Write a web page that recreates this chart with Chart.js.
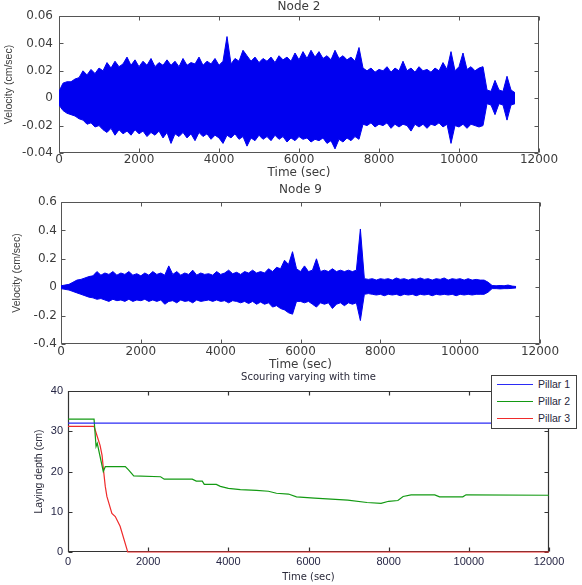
<!DOCTYPE html>
<html>
<head>
<meta charset="utf-8">
<script src="https://cdn.jsdelivr.net/npm/chart.js@4"></script>
<style>
  body { margin: 0; background: #fff; }
  #wrap { position: relative; width: 582px; height: 585px; overflow: hidden; }
  canvas { position: absolute; left: 0; }
  #legend { position: absolute; left: 491px; top: 375px; width: 84px; height: 52px; border: 1px solid #404040; background: #fff;
            font: 10.5px "Liberation Sans", Arial, sans-serif; color: #26263a; }
  .row { position: absolute; left: 0; height: 14px; line-height: 14px; width: 84px; }
  .swatch { position: absolute; left: 5px; top: 7px; width: 36px; height: 0; border-top: 1px solid; }
  .lbl { position: absolute; left: 46px; white-space: nowrap; }
</style>
</head>
<body>
<div id="wrap">
  <canvas id="node2" width="582" height="182" style="top:0"></canvas>
  <canvas id="node9" width="582" height="194" style="top:180px"></canvas>
  <canvas id="scour" width="582" height="223" style="top:362px"></canvas>
  <div id="legend"></div>
</div>
<script>
// sample times (sec) for the velocity envelopes, one every 100 s
const sampleTimes = [
  0, 100, 200, 300, 400, 500, 600, 700, 800, 900,
  1000, 1100, 1200, 1300, 1400, 1500, 1600, 1700, 1800, 1900,
  2000, 2100, 2200, 2300, 2400, 2500, 2600, 2700, 2800, 2900,
  3000, 3100, 3200, 3300, 3400, 3500, 3600, 3700, 3800, 3900,
  4000, 4100, 4200, 4300, 4400, 4500, 4600, 4700, 4800, 4900,
  5000, 5100, 5200, 5300, 5400, 5500, 5600, 5700, 5800, 5900,
  6000, 6100, 6200, 6300, 6400, 6500, 6600, 6700, 6800, 6900,
  7000, 7100, 7200, 7300, 7400, 7500, 7600, 7700, 7800, 7900,
  8000, 8100, 8200, 8300, 8400, 8500, 8600, 8700, 8800, 8900,
  9000, 9100, 9200, 9300, 9400, 9500, 9600, 9700, 9800, 9900,
  10000, 10100, 10200, 10300, 10400, 10500, 10600, 10700, 10800, 10900,
  11000, 11100, 11200, 11300, 11400
];

// Node 2 velocity envelope (cm/sec)
const node2Upper = [
  0.005, 0.011, 0.012, 0.012, 0.014, 0.015, 0.020, 0.017, 0.021, 0.018,
  0.022, 0.020, 0.026, 0.022, 0.027, 0.023, 0.025, 0.030, 0.024, 0.028,
  0.023, 0.027, 0.024, 0.029, 0.023, 0.026, 0.024, 0.028, 0.024, 0.027,
  0.023, 0.029, 0.024, 0.026, 0.025, 0.030, 0.024, 0.027, 0.025, 0.029,
  0.024, 0.027, 0.045, 0.025, 0.029, 0.027, 0.035, 0.031, 0.027, 0.030,
  0.026, 0.029, 0.027, 0.030, 0.026, 0.031, 0.028, 0.030, 0.027, 0.033,
  0.028, 0.034, 0.029, 0.035, 0.030, 0.034, 0.029, 0.031, 0.028, 0.035,
  0.029, 0.031, 0.028, 0.030, 0.027, 0.037, 0.022, 0.020, 0.022, 0.019,
  0.021, 0.020, 0.023, 0.019, 0.022, 0.020, 0.027, 0.020, 0.022, 0.019,
  0.023, 0.020, 0.021, 0.019, 0.022, 0.020, 0.026, 0.021, 0.034, 0.020,
  0.023, 0.033, 0.021, 0.023, 0.020, 0.022, 0.023, 0.006, 0.005, 0.013,
  0.006, 0.005, 0.016, 0.006, 0.004
];
const node2Lower = [
  -0.005, -0.009, -0.011, -0.012, -0.013, -0.015, -0.016, -0.019, -0.018, -0.021,
  -0.020, -0.023, -0.025, -0.022, -0.027, -0.023, -0.026, -0.024, -0.027, -0.023,
  -0.026, -0.024, -0.028, -0.025, -0.027, -0.024, -0.029, -0.025, -0.033, -0.026,
  -0.028, -0.025, -0.029, -0.026, -0.031, -0.025, -0.028, -0.026, -0.030, -0.027,
  -0.029, -0.033, -0.027, -0.029, -0.026, -0.030, -0.028, -0.035, -0.029, -0.031,
  -0.027, -0.030, -0.028, -0.031, -0.027, -0.030, -0.028, -0.032, -0.029, -0.031,
  -0.028, -0.030, -0.029, -0.032, -0.030, -0.031, -0.029, -0.033, -0.031, -0.037,
  -0.030, -0.032, -0.029, -0.031, -0.028, -0.030, -0.019, -0.020, -0.018, -0.021,
  -0.019, -0.020, -0.018, -0.022, -0.019, -0.021, -0.019, -0.020, -0.024, -0.019,
  -0.021, -0.019, -0.022, -0.019, -0.020, -0.018, -0.021, -0.019, -0.033, -0.020,
  -0.021, -0.019, -0.022, -0.019, -0.020, -0.021, -0.020, -0.004, -0.005, -0.012,
  -0.004, -0.005, -0.016, -0.005, -0.004
];

// Node 9 velocity envelope (cm/sec)
const node9Upper = [
  0.01, 0.015, 0.02, 0.035, 0.05, 0.055, 0.065, 0.075, 0.08, 0.11,
  0.085, 0.1, 0.09, 0.11, 0.085, 0.1, 0.09, 0.11, 0.085, 0.095,
  0.08, 0.1, 0.085, 0.11, 0.09, 0.1, 0.085, 0.15, 0.09, 0.11,
  0.085, 0.1, 0.09, 0.12, 0.085, 0.1, 0.09, 0.095, 0.085, 0.11,
  0.09, 0.1, 0.12, 0.095, 0.105, 0.09, 0.11, 0.1, 0.12, 0.1,
  0.11, 0.1, 0.13, 0.11, 0.14, 0.13, 0.19, 0.16, 0.25, 0.13,
  0.11, 0.15, 0.11, 0.12, 0.2, 0.11, 0.12, 0.11, 0.13, 0.11,
  0.12, 0.11, 0.12, 0.11, 0.12, 0.41, 0.06, 0.055, 0.06, 0.05,
  0.06, 0.055, 0.06, 0.05, 0.065, 0.055, 0.06, 0.05, 0.06, 0.055,
  0.065, 0.055, 0.06, 0.05, 0.06, 0.055, 0.065, 0.05, 0.06, 0.055,
  0.06, 0.05, 0.06, 0.05, 0.055, 0.05, 0.05, 0.035, 0.012, 0.01,
  0.012, 0.01, 0.015, 0.008, 0.005
];
const node9Lower = [
  -0.01, -0.015, -0.02, -0.03, -0.04, -0.05, -0.06, -0.07, -0.075, -0.085,
  -0.08, -0.09, -0.1, -0.085, -0.095, -0.09, -0.1, -0.085, -0.1, -0.09,
  -0.095, -0.085, -0.1, -0.09, -0.1, -0.09, -0.12, -0.1, -0.095, -0.11,
  -0.09, -0.1, -0.095, -0.11, -0.09, -0.1, -0.095, -0.09, -0.1, -0.09,
  -0.1, -0.095, -0.11, -0.095, -0.1, -0.11, -0.1, -0.115, -0.1, -0.12,
  -0.105, -0.12, -0.11, -0.14, -0.13, -0.15, -0.16, -0.18, -0.19, -0.1,
  -0.1, -0.11, -0.1, -0.12, -0.14, -0.11, -0.12, -0.11, -0.15, -0.12,
  -0.11, -0.13, -0.11, -0.12, -0.11, -0.235, -0.05, -0.045, -0.05, -0.055,
  -0.05, -0.06, -0.05, -0.055, -0.05, -0.06, -0.05, -0.055, -0.05, -0.06,
  -0.05, -0.055, -0.05, -0.06, -0.05, -0.055, -0.05, -0.055, -0.05, -0.06,
  -0.05, -0.055, -0.05, -0.055, -0.05, -0.05, -0.05, -0.035, -0.01, -0.01,
  -0.012, -0.01, -0.01, -0.008, -0.005
];

// Scouring: laying depth (cm) against time (sec)
const pillarNames = ["Pillar 1", "Pillar 2", "Pillar 3"];
const pillarColors = ["#2b2bf5", "#139a13", "#ef2b2b"];
const pillar1Time = [0, 12000];
const pillar1Depth = [32, 32];
const pillar2Time = [0, 650, 700, 730, 880, 930, 1430, 1510, 1640, 2310, 2400, 3100, 3200, 3350, 3400,
  3700, 3800, 4000, 4300, 4700, 5000, 5200, 5500, 5700, 6150, 6980, 7460, 7810, 8000, 8230,
  8360, 8560, 9150, 9270, 9850, 9930, 12000];
const pillar2Depth = [33, 33, 26.2, 27, 20, 21.2, 21.2, 20.4, 18.9, 18.7, 18.1, 18.1, 17.6, 17.6, 16.8,
  16.8, 16.3, 15.8, 15.5, 15.3, 15.1, 14.6, 14.4, 13.7, 13.4, 12.9, 12.3, 12.1, 12.6, 12.8,
  13.8, 14.2, 14.2, 13.7, 13.7, 14.2, 14.1];
const pillar3Time = [0, 650, 720, 800, 850, 885, 930, 970, 1095, 1180, 1300, 1490, 12000];
const pillar3Depth = [31.2, 31.2, 29, 26.5, 24, 20.4, 16.3, 13.8, 9.6, 8.8, 6.4, 0, 0];

const timeTicks = [0, 2000, 4000, 6000, 8000, 10000, 12000];

const pairUp = (xs, ys) => ys.map((y, i) => ({ x: xs[i], y: y }));

// box round the plot with small inward ticks, like the matlab axes
const matlabFrame = {
  id: "matlabFrame",
  beforeDatasetsDraw(chart, args, opts) {
    const { ctx, chartArea: a, scales } = chart;
    const len = opts.tickLength;
    const L = Math.round(a.left) + 0.5, R = Math.round(a.right) - 0.5;
    const T = Math.round(a.top) + 0.5, B = Math.round(a.bottom) - 0.5;
    ctx.save();
    ctx.strokeStyle = opts.color;
    ctx.lineWidth = opts.lineWidth;
    ctx.beginPath();
    ctx.rect(L, T, R - L, B - T);
    scales.x.ticks.forEach(t => {
      const px = Math.round(scales.x.getPixelForValue(t.value)) + 0.5;
      ctx.moveTo(px, B); ctx.lineTo(px, B - len);
      ctx.moveTo(px, T); ctx.lineTo(px, T + len);
    });
    scales.y.ticks.forEach(t => {
      const py = Math.round(scales.y.getPixelForValue(t.value)) + 0.5;
      ctx.moveTo(L, py); ctx.lineTo(L + len, py);
      ctx.moveTo(R, py); ctx.lineTo(R - len, py);
    });
    ctx.stroke();
    ctx.restore();
  }
};

function velocityChart(id, upper, lower, p) {
  const wide = '"DejaVu Sans", sans-serif';
  const blue = "#0000f0";
  return new Chart(document.getElementById(id), {
    type: "line",
    data: {
      datasets: [
        { data: pairUp(sampleTimes, upper), borderColor: blue, borderWidth: 1, pointRadius: 0, fill: false },
        { data: pairUp(sampleTimes, lower), borderColor: blue, borderWidth: 1, pointRadius: 0,
          fill: "-1", backgroundColor: blue }
      ]
    },
    options: {
      responsive: false,
      animation: false,
      devicePixelRatio: 1,
      layout: { padding: { left: 0, right: p.right, top: 0, bottom: 0 } },
      plugins: {
        legend: { display: false },
        tooltip: { enabled: false },
        title: { display: true, text: p.title, fullSize: false, color: "#3c3c3c",
                 font: { family: wide, size: 12, weight: "normal" }, padding: p.titlePad },
        matlabFrame: { color: "#555", lineWidth: 1, tickLength: 4 }
      },
      scales: {
        x: {
          type: "linear", min: 0, max: 12000,
          afterBuildTicks: s => { s.ticks = timeTicks.map(v => ({ value: v })); },
          afterFit: s => { s.height = p.xHeight; },
          grid: { display: false, drawTicks: false }, border: { display: false },
          ticks: { color: "#3c3c3c", font: { family: wide, size: 12 }, padding: p.xTickPad,
                   maxRotation: 0, autoSkip: false, callback: v => String(v) },
          title: { display: true, text: "Time (sec)", color: "#3c3c3c", font: { family: wide, size: 12 },
                   padding: { top: 0, bottom: p.xTitlePad } }
        },
        y: {
          min: p.yMin, max: p.yMax,
          ticks: { stepSize: p.yStep, color: "#3c3c3c", font: { family: wide, size: 12 }, padding: p.yTickPad },
          afterFit: s => { s.width = p.left; },
          grid: { display: false, drawTicks: false }, border: { display: false },
          title: { display: true, text: "Velocity (cm/sec)", color: "#3c3c3c",
                   font: { family: '"Liberation Sans", Arial, sans-serif', size: 10.5 },
                   padding: { top: p.yTitlePad, bottom: 0 } }
        }
      }
    },
    plugins: [matlabFrame]
  });
}

velocityChart("node2", node2Upper, node2Lower, {
  title: "Node 2", right: 43, left: 59, titlePad: { top: 0, bottom: 1.6 },
  xHeight: 29, xTickPad: 0, xTitlePad: 1.8, yMin: -0.04, yMax: 0.06, yStep: 0.02,
  yTickPad: 6, yTitlePad: 2.7
});

velocityChart("node9", node9Upper, node9Lower, {
  title: "Node 9", right: 42, left: 61, titlePad: { top: 2.8, bottom: 4.8 },
  xHeight: 30, xTickPad: 0.8, xTitlePad: 1.8, yMin: -0.4, yMax: 0.6, yStep: 0.2,
  yTickPad: 4, yTitlePad: 11.2
});

const pillarTimes = [pillar1Time, pillar2Time, pillar3Time];
const pillarDepths = [pillar1Depth, pillar2Depth, pillar3Depth];

new Chart(document.getElementById("scour"), {
  type: "line",
  data: {
    datasets: pillarNames.map((name, k) => ({
      label: name,
      data: pairUp(pillarTimes[k], pillarDepths[k]),
      borderColor: pillarColors[k],
      borderWidth: 1.2,
      pointRadius: 0,
      fill: false,
      clip: 4
    }))
  },
  options: {
    responsive: false,
    animation: false,
    devicePixelRatio: 1,
    layout: { padding: { left: 0, right: 33, top: 0, bottom: 0 } },
    plugins: {
      legend: { display: false },
      tooltip: { enabled: false },
      title: { display: true, text: "Scouring varying with time", fullSize: false, color: "#2a2a3a",
               font: { family: '"DejaVu Sans", sans-serif', size: 10, weight: "normal" },
               padding: { top: 9, bottom: 8 } },
      matlabFrame: { color: "#333", lineWidth: 1.2, tickLength: 4 }
    },
    scales: {
      x: {
        type: "linear", min: 0, max: 12000,
        afterBuildTicks: s => { s.ticks = timeTicks.map(v => ({ value: v })); },
        afterFit: s => { s.height = 33; },
        grid: { display: false, drawTicks: false }, border: { display: false },
        ticks: { color: "#262645", font: { family: '"Liberation Sans", Arial, sans-serif', size: 11 },
                 padding: 3, maxRotation: 0, autoSkip: false, callback: v => String(v) },
        title: { display: true, text: "Time (sec)", color: "#2a2a3a",
                 font: { family: '"DejaVu Sans", sans-serif', size: 10 }, padding: { top: 0, bottom: 2 } }
      },
      y: {
        min: 0, max: 40,
        ticks: { stepSize: 10, color: "#262645", font: { family: '"Liberation Sans", Arial, sans-serif', size: 11 }, padding: 5 },
        afterFit: s => { s.width = 68; },
        grid: { display: false, drawTicks: false }, border: { display: false },
        title: { display: true, text: "Laying depth (cm)", color: "#2a2a3a",
                 font: { family: '"Liberation Sans", Arial, sans-serif', size: 10.5 },
                 padding: { top: 32.7, bottom: 0 } }
      }
    }
  },
  plugins: [matlabFrame]
});

// legend box drawn as html, from the same names and colours
const legendBox = document.getElementById("legend");
pillarNames.forEach((name, k) => {
  const row = document.createElement("div");
  row.className = "row";
  row.style.top = (1 + 17 * k) + "px";
  row.innerHTML = '<span class="swatch" style="border-color:' + pillarColors[k] + '"></span><span class="lbl">' + name + "</span>";
  legendBox.appendChild(row);
});
</script>
</body>
</html>
